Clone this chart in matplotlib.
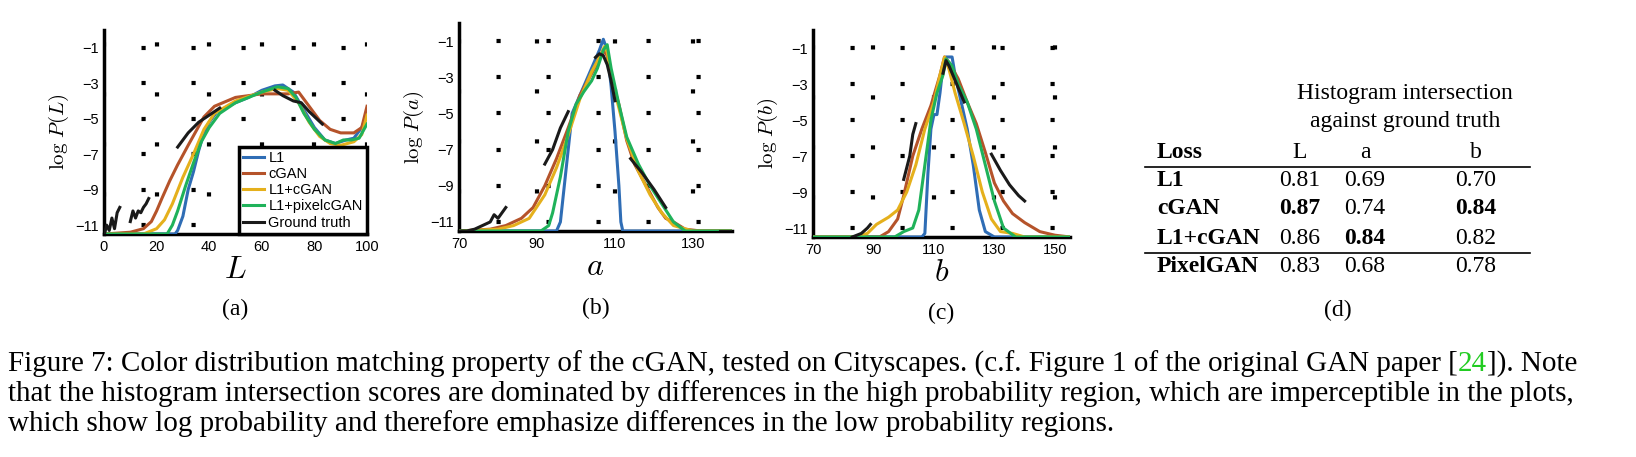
import matplotlib
matplotlib.use("Agg")
import matplotlib.pyplot as plt

W, H = 1636, 457
SERIF = "Liberation Serif"
SANS = "Liberation Sans"
plt.rcParams["mathtext.fontset"] = "cm"

COLORS = {"L1": "#2f6db5", "cGAN": "#b5532a", "L1+cGAN": "#e5b01c",
          "L1+pixelcGAN": "#1fb25a", "Ground truth": "#1a1a1a"}

# panel (a): L channel
a_l1 = [(0, -11.5), (27, -11.5), (28, -11.3), (30, -10.5), (32, -9), (34, -8), (36, -6.8), (38, -5.8),
        (40, -5.2), (43, -4.6), (50, -4.1), (55, -3.8), (60, -3.4), (65, -3.15), (68, -3.1), (72, -3.5),
        (76, -4.5), (80, -5.5), (84, -6.2), (88, -6.4), (92, -6.2), (95, -6.1), (98, -5.5), (100, -4.8)]
a_cgan = [(0, -11.5), (10, -11.4), (15, -11.2), (18, -10.8), (20, -10.2), (22, -9.5), (25, -8.5), (28, -7.6),
          (32, -6.5), (35, -5.7), (38, -4.9), (42, -4.3), (50, -3.8), (60, -3.6), (70, -3.6), (74, -3.5),
          (78, -4.3), (82, -5.1), (86, -5.6), (90, -5.8), (95, -5.8), (98, -5.5), (100, -4.3)]
a_l1cgan = [(0, -11.5), (15, -11.5), (20, -11.2), (23, -10.7), (26, -9.8), (30, -8.3), (34, -7), (38, -5.6),
            (42, -4.7), (50, -4), (60, -3.5), (66, -3.3), (70, -3.4), (74, -4.1), (78, -5.2), (82, -6),
            (86, -6.4), (90, -6.5), (95, -6.3), (98, -5.9), (100, -4.8)]
a_pix = [(0, -11.5), (24, -11.5), (26, -11), (28, -10.2), (31, -8.8), (34, -7.5), (37, -6.3), (40, -5.5),
         (44, -4.7), (50, -4.1), (60, -3.5), (66, -3.2), (70, -3.3), (73, -3.8), (76, -4.7), (80, -5.6),
         (84, -6.2), (88, -6.4), (91, -6.2), (94, -6.2), (97, -6.1), (100, -5.3)]
a_gt = [[(0, -11.6), (1, -11), (2, -11.3), (3, -10.6), (4, -11.2), (5, -10.3), (6, -10)],
        [(10, -10.8), (11, -10.2), (12, -10.6), (13, -10.2), (14, -10.3), (15, -10), (16, -9.8), (17, -9.5)],
        [(28, -6.6), (32, -5.8), (36, -5.2), (40, -4.8), (44, -4.4)],
        [(65, -3.4), (68, -3.7), (72, -4), (75, -4.1), (78, -4.6), (83, -5.3)]]

# panel (b): a channel
b_l1 = [(70, -11.5), (95, -11.5), (96, -11), (97, -9), (98, -7), (99, -5), (101, -4), (104, -2.5),
        (106, -1.5), (107, -0.9), (108, -1.5), (109, -3.5), (110, -6), (111, -9), (111.5, -11),
        (112, -11.5), (140, -11.5)]
b_cgan = [(70, -11.5), (78, -11.4), (82, -11.2), (86, -10.8), (89, -10.2), (92, -9), (95, -7.5), (98, -5.8),
          (101, -4), (104, -2.8), (106, -2), (107, -1.5), (108, -1.8), (109, -3), (111, -4.5), (113, -6.5),
          (115, -7.8), (118, -9), (121, -10.2), (123, -10.8), (125, -11), (128, -11.4), (132, -11.5),
          (140, -11.5)]
b_l1cgan = [(70, -11.5), (80, -11.4), (84, -11.2), (88, -10.8), (92, -9.5), (95, -8), (98, -6.2), (101, -4.2),
            (104, -2.7), (106, -1.9), (107.3, -1.3), (108, -1.6), (109, -3), (111, -4.7), (113, -6.4),
            (116, -8.2), (119, -9.5), (122, -10.5), (125, -11.2), (130, -11.5), (140, -11.5)]
b_pix = [(70, -11.5), (91, -11.5), (93, -11.2), (94, -10.5), (96, -8.5), (98, -6), (100, -4.5), (102, -3.8),
         (104, -3.2), (105.5, -2.5), (107, -1.5), (108, -1.2), (109, -2.5), (111, -4.5), (113, -6.3),
         (116, -7.8), (119, -9), (122, -10), (125, -11), (128, -11.5), (140, -11.5)]
b_gt = [[(70, -11.5), (72, -11.5), (74, -11.4), (76, -11.2), (78, -11), (79, -10.6), (80, -10.8), (82, -10.2)],
        [(92, -7.8), (94, -7), (96, -5.8), (98, -4.9)],
        [(105, -1.9), (106, -1.7), (107, -1.8), (108, -2.3), (109, -3.2), (110, -4.3)],
        [(114, -7.5), (117, -8.3), (120, -9.2), (123, -10.2)],
        [(137, -11.5), (140, -11.5)]]

# panel (c): b channel
c_l1 = [(70, -11.5), (106, -11.5), (107, -11.3), (108, -8), (109, -5.5), (110, -4.7), (111, -4.7),
        (112, -3.5), (113, -2), (114, -1.5), (116, -1.5), (117, -2.5), (119, -4), (121, -5.5), (123, -7.5),
        (125, -10), (127, -11.2), (130, -11.5), (155, -11.5)]
c_cgan = [(70, -11.5), (92, -11.5), (95, -11.2), (98, -10.5), (100, -9.2), (103, -7), (106, -5.5), (109, -4.2),
          (112, -2.5), (113.5, -1.5), (115, -1.8), (118, -2.7), (121, -4), (124, -5.2), (127, -6.8),
          (130, -8.5), (133, -9.5), (136, -10.2), (140, -10.7), (145, -11.2), (150, -11.4), (155, -11.5)]
c_l1cgan = [(70, -11.5), (84, -11.5), (88, -11.3), (91, -10.8), (95, -10.4), (98, -10), (101, -9), (104, -7.5),
            (107, -5.5), (110, -4), (112, -2.5), (113.5, -1.5), (115, -2.2), (117, -3.5), (120, -5.2),
            (123, -7), (126, -9), (129, -10.5), (132, -11.2), (136, -11.3), (140, -11.5), (155, -11.5)]
c_pix = [(70, -11.5), (97, -11.5), (100, -11.2), (103, -11), (105, -10), (107, -7.5), (109, -5), (111, -3.5),
         (113, -2.5), (114, -1.6), (116, -2), (118, -3), (121, -4), (124, -5.5), (127, -7.5), (130, -9.5),
         (133, -11), (137, -11.5), (155, -11.5)]
c_gt = [[(83, -11.5), (86, -11.3), (88, -11), (89, -10.8)],
        [(100, -8.3), (102, -7), (103, -5.8), (104, -5.2)],
        [(113, -2.4), (114, -1.7), (115, -2), (117, -2.8), (119, -3.6), (120, -4)],
        [(129, -6.9), (132, -7.8), (135, -8.6), (138, -9.2), (140, -9.5)]]

y_ticks = [-1, -3, -5, -7, -9, -11]

# table (d)
table_cols = ["L", "a", "b"]
table_rows = ["L1", "cGAN", "L1+cGAN", "PixelGAN"]
table_vals = [["0.81", "0.69", "0.70"],
              ["0.87", "0.74", "0.84"],
              ["0.86", "0.84", "0.82"],
              ["0.83", "0.68", "0.78"]]
table_bold = [[False, False, False], [True, False, True], [False, True, False], [False, False, False]]

fig = plt.figure(figsize=(W / 100, H / 100), dpi=100)


def px_axes(x0, x1, ytop, ybot):
    return fig.add_axes([x0 / W, 1 - ybot / H, (x1 - x0) / W, (ybot - ytop) / H])


def panel(ax, series, gt, xlim, xticks, var, tag, legend=False):
    names = ["L1", "cGAN", "L1+cGAN", "L1+pixelcGAN"]
    for name, pts in zip(names, series):
        xs, ys = zip(*pts)
        ax.plot(xs, ys, color=COLORS[name], lw=2.2, label=name, zorder=3)
    for i, seg in enumerate(gt):
        xs, ys = zip(*seg)
        ax.plot(xs, ys, color=COLORS["Ground truth"], lw=2.2, zorder=4,
                label="Ground truth" if i == 0 else None)
    ax.set_xlim(*xlim)
    ax.set_ylim(-11.5, 0)
    ax.set_xticks(xticks)
    ax.set_yticks(y_ticks)
    ax.grid(True, color="black", lw=3, linestyle=(3, (1, 11)))
    ax.set_axisbelow(True)
    for s in ("top", "right"):
        ax.spines[s].set_visible(False)
    for s in ("left", "bottom"):
        ax.spines[s].set_linewidth(2.5)
    ax.tick_params(length=0, labelsize=10.5, pad=4)
    for lab in ax.get_xticklabels() + ax.get_yticklabels():
        lab.set_fontfamily(SANS)
    ax.set_xlabel(f"${var}$", fontsize=23, labelpad=0)
    ax.set_ylabel(rf"$\log\,P({var})$", fontsize=15, labelpad=3)
    ax.text(0.5, -0.37, tag, transform=ax.transAxes, ha="center", va="center",
            fontsize=17, family=SERIF)
    if legend:
        leg = ax.legend(loc="lower right", borderaxespad=0, fancybox=False, framealpha=1,
                        handlelength=1.4, handletextpad=0.3, labelspacing=0.15,
                        prop={"family": SANS, "size": 10.5}, borderpad=0.3)
        leg.get_frame().set_edgecolor("black")
        leg.get_frame().set_linewidth(2.5)
        leg.set_zorder(5)


ax_a = px_axes(104, 367, 30, 234)
panel(ax_a, [a_l1, a_cgan, a_l1cgan, a_pix], a_gt, (0, 100), [0, 20, 40, 60, 80, 100], "L", "(a)", True)
ax_b = px_axes(459, 732, 23, 231)
panel(ax_b, [b_l1, b_cgan, b_l1cgan, b_pix], b_gt, (70, 140), [70, 90, 110, 130], "a", "(b)")
ax_c = px_axes(813, 1070, 30, 237)
panel(ax_c, [c_l1, c_cgan, c_l1cgan, c_pix], c_gt, (70, 155), [70, 90, 110, 130, 150], "b", "(c)")


def ftext(x, y, s, **kw):
    kw.setdefault("fontsize", 17)
    kw.setdefault("family", SERIF)
    return fig.text(x / W, 1 - y / H, s, va="center", **kw)


# table
ftext(1405, 93, "Histogram intersection", ha="center")
ftext(1405, 122, "against ground truth", ha="center")
ftext(1157, 152, "Loss", ha="left", weight="bold")
col_x = [1300, 1365, 1476]
for cx, c in zip(col_x, table_cols):
    ftext(cx, 152, c, ha="center")
row_y = [180, 209, 238, 267]
for ry, name, vals, bold in zip(row_y, table_rows, table_vals, table_bold):
    ftext(1157, ry, name, ha="left", weight="bold")
    for cx, v, b in zip(col_x, vals, bold):
        ftext(cx, ry, v, ha="center", weight="bold" if b else "normal")
for ly in (167, 253):
    fig.add_artist(plt.Line2D([1145 / W, 1530 / W], [1 - ly / H] * 2, color="black", lw=1.2))
ftext(1338, 310, "(d)", ha="center")

# caption
cap = [
    [("Figure 7: Color distribution matching property of the cGAN, tested on Cityscapes. (c.f. Figure 1 of the original GAN paper [", "black"),
     ("24", "#22cc22"), ("]). Note", "black")],
    [("that the histogram intersection scores are dominated by differences in the high probability region, which are imperceptible in the plots,", "black")],
    [("which show log probability and therefore emphasize differences in the low probability regions.", "black")],
]
renderer = fig.canvas.get_renderer()
for y, parts in zip([364, 394, 424], cap):
    x = 8
    for s, col in parts:
        t = ftext(x, y, s, ha="left", color=col, fontsize=21)
        x += t.get_window_extent(renderer).width

fig.savefig("out.png", dpi=100)
